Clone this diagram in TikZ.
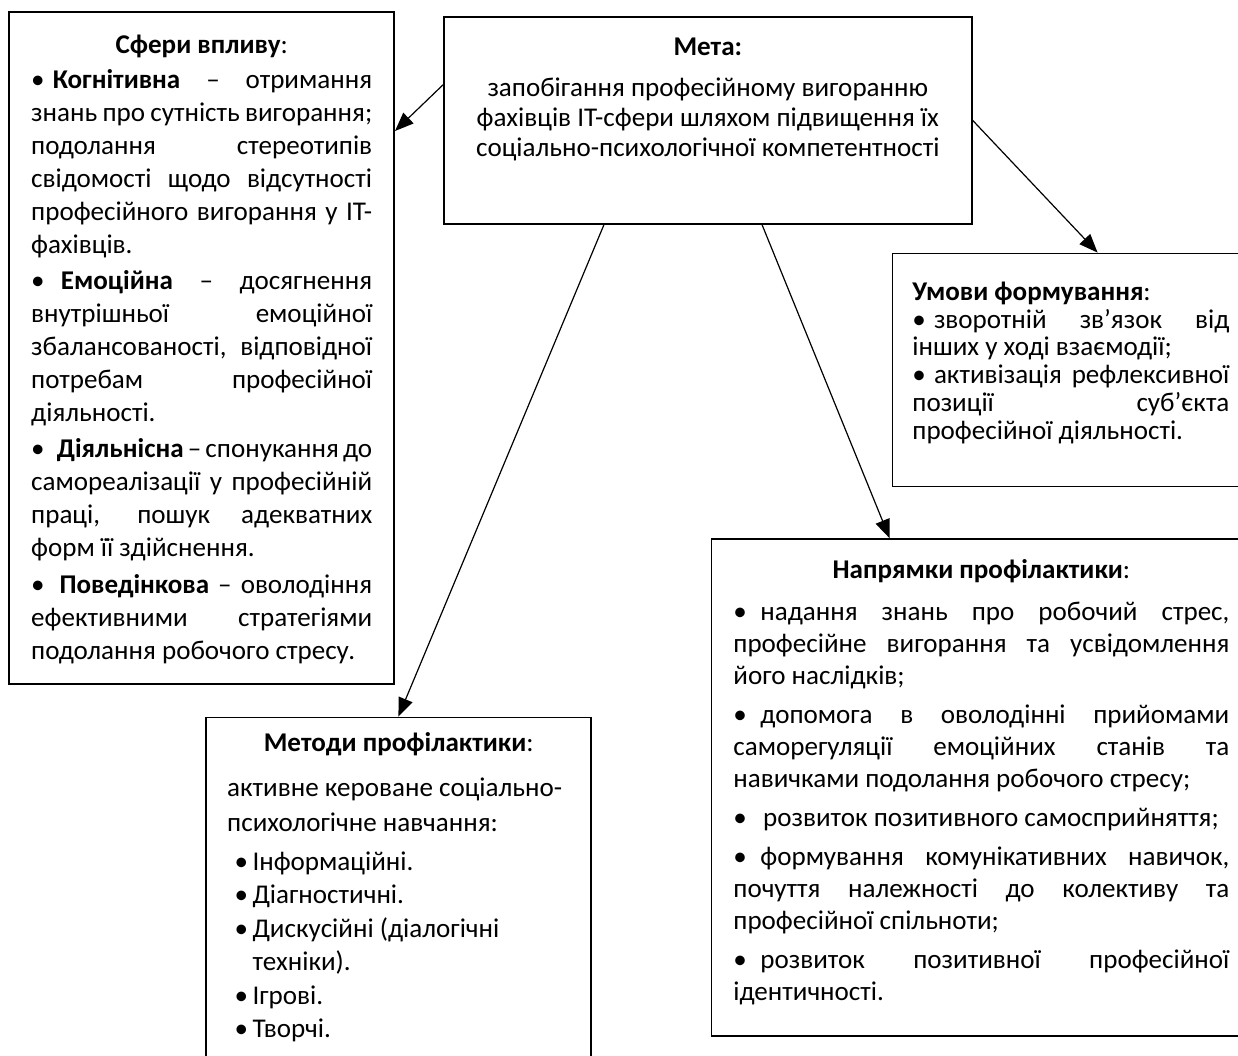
\documentclass[tikz,border=0pt]{standalone}
\usepackage{fontspec}
\setmainfont{Carlito}
\usetikzlibrary{positioning,arrows.meta}
\lineskiplimit=-20pt
\newcommand{\jl}[1]{\makebox[\linewidth][s]{#1}}
\newcommand{\bul}[1]{•\hspace{#1}}
\tikzset{
  frame/.style={rectangle, draw, line width=1.2pt, inner sep=0pt},
  arrow/.style={-{Triangle[length=14pt,width=11pt]}, line width=0.9pt}
}

\begin{document}
\begin{tikzpicture}[x=0.75pt,y=-0.75pt]
\useasboundingbox (0,0) rectangle (1238,1056);
\clip (0,0) rectangle (1238,1056);
% goal in the middle
\node[frame, minimum width=396pt, anchor=north west, font=\fontsize{20.3pt}{22.3pt}\selectfont] (meta) at (443,16) {\parbox[c][155.25pt][t]{375pt}{\centering\rule{0pt}{29pt}\textbf{Мета:}\\[8.6pt]
запобігання професійному вигоранню\\
фахівців IT-сфери шляхом підвищення їх\\
соціально-психологічної компетентності}};
\node[frame, minimum width=288.75pt, below left=-3.75pt and 36pt of meta.north west, font=\fontsize{20.3pt}{24.75pt}\selectfont] (sfery) {\parbox[c][504pt][t]{255.75pt}{\rule{0pt}{31.5pt}\makebox[\linewidth]{\textbf{Сфери впливу}:}\\[1.5pt]
\jl{\bul{0.3em}\textbf{Когнітивна} – отримання}\\
знань про сутність вигорання;\\
\jl{подолання стереотипів}\\
\jl{свідомості щодо відсутності}\\
\jl{професійного вигорання у IT-}\\
фахівців.\\[2.25pt]
\jl{\bul{0.6em}\textbf{Емоційна} – досягнення}\\
\jl{внутрішньої емоційної}\\
\jl{збалансованості, відповідної}\\
\jl{потребам професійної}\\
діяльності.\\[2.25pt]
\jl{\bul{0.45em}\textbf{Діяльнісна} – спонукання до}\\
\jl{самореалізації у професійній}\\
\jl{праці, пошук адекватних}\\
форм її здійснення.\\[3pt]
\jl{\bul{0.55em}\textbf{Поведінкова} – оволодіння}\\
\jl{ефективними стратегіями}\\
подолання робочого стресу.}};
\node[frame, minimum width=267.75pt, below right=21pt and -60.75pt of meta.south east, font=\fontsize{20.3pt}{20.8pt}\selectfont] (umovy) {\parbox[c][174.75pt][t]{237.75pt}{\rule{0pt}{35.25pt}\textbf{Умови формування}:\\
\jl{\bul{0.3em}зворотній зв’язок від}\\
інших у ході взаємодії;\\
\jl{\bul{0.3em}активізація рефлексивної}\\
\jl{позиції суб’єкта}\\
професійної діяльності.}};
\node[frame, minimum width=405pt, below right=38.25pt and -135.75pt of umovy.south west, font=\fontsize{20.3pt}{24pt}\selectfont] (napr) {\parbox[c][372.75pt][t]{372pt}{\rule{0pt}{29.25pt}\makebox[\linewidth]{\textbf{Напрямки профілактики}:}\\[7.5pt]
\jl{\bul{0.5em}надання знань про робочий стрес,}\\
\jl{професійне вигорання та усвідомлення}\\
його наслідків;\\[5.25pt]
\jl{\bul{0.5em}допомога в оволодінні прийомами}\\
\jl{саморегуляції емоційних станів та}\\
навичками подолання робочого стресу;\\[5.25pt]
\bul{0.6em}розвиток позитивного самосприйняття;\\[5.25pt]
\jl{\bul{0.5em}формування комунікативних навичок,}\\
\jl{почуття належності до колективу та}\\
професійної спільноти;\\[5.25pt]
\jl{\bul{0.5em}розвиток позитивної професійної}\\
ідентичності.}};
\node[frame, minimum width=288.75pt, below right=24pt and 147.75pt of sfery.south west, font=\fontsize{20.3pt}{25.1pt}\selectfont] (metody) {\parbox[c][270pt][t]{257.25pt}{\rule{0pt}{25.5pt}\makebox[\linewidth]{\textbf{Методи профілактики}:}\\[8.6pt]
активне кероване соціально-\\[1.1pt]
психологічне навчання:\\[4.1pt]
\makebox[19pt][l]{\hspace*{5.5pt}•}Інформаційні.\\
\makebox[19pt][l]{\hspace*{5.5pt}•}Діагностичні.\\
\makebox[19pt][l]{\hspace*{5.5pt}•}Дискусійні (діалогічні\\
\hspace*{19pt}техніки).\\
\makebox[19pt][l]{\hspace*{5.5pt}•}Ігрові.\\
\makebox[19pt][l]{\hspace*{5.5pt}•}Творчі.}};
% arrows
\draw[arrow] ([yshift=26.6pt]meta.west) -- ([yshift=-90pt]sfery.north east);
\draw[arrow] (meta.east) -- ([xshift=154.5pt]umovy.north west);
\draw[arrow] ([xshift=120.75pt]meta.south west) -- ([xshift=144.75pt]metody.north west);
\draw[arrow] ([xshift=239.25pt]meta.south west) -- ([xshift=134.25pt]napr.north west);
\end{tikzpicture}
\end{document}
